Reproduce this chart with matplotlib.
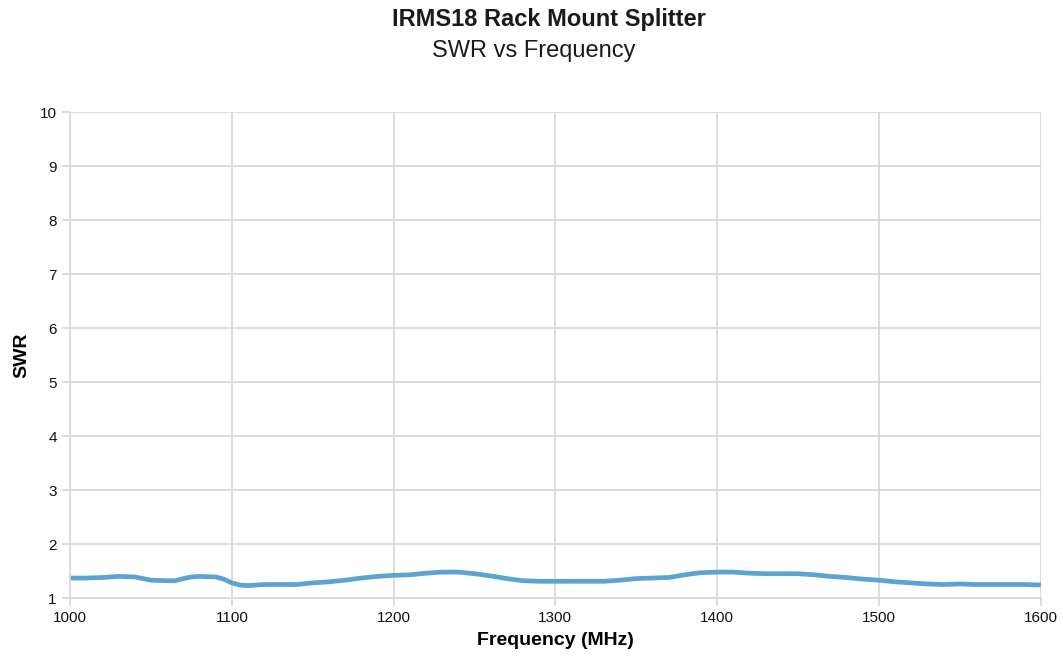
import matplotlib
matplotlib.use("Agg")
import matplotlib.pyplot as plt

freq = [1000, 1010, 1020, 1030, 1040, 1045, 1050, 1060, 1065, 1070, 1075, 1080, 1090,
        1095, 1100, 1105, 1110, 1115, 1120, 1130, 1140, 1150, 1160, 1170, 1180, 1190,
        1200, 1210, 1220, 1230, 1240, 1250, 1260, 1270, 1280, 1290, 1300, 1310, 1320,
        1330, 1340, 1350, 1360, 1370, 1380, 1390, 1400, 1410, 1420, 1430, 1440, 1450,
        1460, 1470, 1480, 1490, 1500, 1510, 1520, 1530, 1540, 1550, 1560, 1570, 1580,
        1590, 1600]
swr = [1.37, 1.37, 1.38, 1.40, 1.39, 1.36, 1.33, 1.32, 1.32, 1.36, 1.39, 1.40, 1.39,
       1.35, 1.28, 1.24, 1.23, 1.24, 1.25, 1.25, 1.25, 1.28, 1.30, 1.33, 1.37, 1.40,
       1.42, 1.43, 1.46, 1.48, 1.48, 1.45, 1.41, 1.36, 1.32, 1.31, 1.31, 1.31, 1.31,
       1.31, 1.33, 1.36, 1.37, 1.38, 1.43, 1.47, 1.48, 1.48, 1.46, 1.45, 1.45, 1.45,
       1.43, 1.40, 1.38, 1.35, 1.33, 1.30, 1.28, 1.26, 1.25, 1.26, 1.25, 1.25, 1.25,
       1.25, 1.24]

xticks = [1000, 1100, 1200, 1300, 1400, 1500, 1600]
yticks = [1, 2, 3, 4, 5, 6, 7, 8, 9, 10]

plt.rcParams['font.family'] = ['Liberation Sans', 'DejaVu Sans']
grid_c = '#DED8D4'

fig = plt.figure(figsize=(10.63, 6.56), dpi=100)
ax = fig.add_axes([0.0659, 0.0884, 0.9131, 0.7406])
ax.plot(freq, swr, color='#5BA4D1', linewidth=3.4, solid_capstyle='round',
        solid_joinstyle='round')
ax.set_xlim(1000, 1600)
ax.set_ylim(1, 10)
ax.set_xticks(xticks)
ax.set_yticks(yticks)
ax.grid(True, color=grid_c, linewidth=1.3)
ax.set_axisbelow(True)
for s in ['top', 'right']:
    ax.spines[s].set_visible(False)
for s in ['left', 'bottom']:
    ax.spines[s].set_color(grid_c)
    ax.spines[s].set_linewidth(1.3)
ax.tick_params(axis='both', colors=grid_c, labelcolor='#111111', labelsize=11,
               length=6, width=1.3)
ax.set_xlabel('Frequency (MHz)', fontsize=14, fontweight='bold', labelpad=5)
ax.set_ylabel('SWR', fontsize=14, fontweight='bold', labelpad=7)
fig.text(0.516, 0.971, 'IRMS18 Rack Mount Splitter', ha='center', va='center',
         fontsize=17, fontweight='bold', color='#1a1a1a')
fig.text(0.502, 0.923, 'SWR vs Frequency', ha='center', va='center',
         fontsize=17, color='#1a1a1a')
fig.savefig('out.png', dpi=100)
